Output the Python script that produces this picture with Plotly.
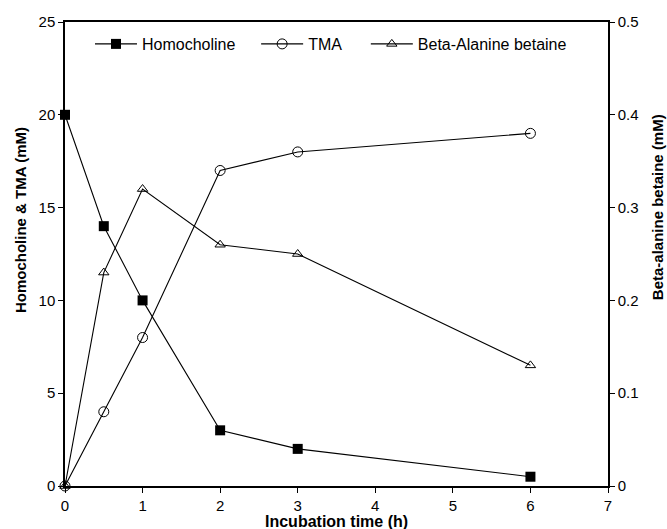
import plotly.graph_objects as go

time_h = [0, 0.5, 1, 2, 3, 6]
homocholine = [20, 14, 10, 3, 2, 0.5]
tma = [0, 4, 8, 17, 18, 19]
beta_alanine_betaine = [0, 0.23, 0.32, 0.26, 0.25, 0.13]

x_ticks = [0, 1, 2, 3, 4, 5, 6, 7]
left_ticks = [0, 5, 10, 15, 20, 25]
right_ticks = [0, 0.1, 0.2, 0.3, 0.4, 0.5]
right_tick_labels = ["0", "0.1", "0.2", "0.3", "0.4", "0.5"]

fig = go.Figure()
fig.add_trace(go.Scatter(x=time_h, y=homocholine, name="Homocholine", mode="lines+markers",
                         line=dict(color="black", width=1.1), legend="legend",
                         marker=dict(symbol="square", size=10, color="black"), cliponaxis=False))
fig.add_trace(go.Scatter(x=time_h, y=tma, name="TMA", mode="lines+markers",
                         line=dict(color="black", width=1.1), legend="legend2",
                         marker=dict(symbol="circle-open", size=10, color="black", line=dict(width=1)), cliponaxis=False))
fig.add_trace(go.Scatter(x=time_h, y=beta_alanine_betaine, name="Beta-Alanine betaine", mode="lines+markers",
                         yaxis="y2", line=dict(color="black", width=1.1), legend="legend3",
                         marker=dict(symbol="triangle-up-open", size=9, color="black", line=dict(width=1)), cliponaxis=False))

font_family = "Liberation Sans, Arial, sans-serif"
leg_common = dict(orientation="h", y=0.9526, xanchor="left", yanchor="middle",
                  font=dict(size=16), bgcolor="rgba(0,0,0,0)", itemwidth=42)

axis_common = dict(ticks="outside", ticklen=5, tickcolor="black", tickwidth=1.2,
                   showline=True, linecolor="black", linewidth=1.5, showgrid=False, zeroline=False,
                   automargin=False, tickfont=dict(size=15))

fig.update_layout(
    width=667, height=529,
    margin=dict(l=65, r=59, t=22, b=43),
    paper_bgcolor="white", plot_bgcolor="white",
    font=dict(family=font_family, color="black", size=15),
    showlegend=True,
    legend=dict(x=0.046, **leg_common),
    legend2=dict(x=0.352, **leg_common),
    legend3=dict(x=0.554, **leg_common),
    xaxis=dict(range=[0, 7], tickvals=x_ticks, mirror=True, **axis_common),
    yaxis=dict(range=[0, 25], tickvals=left_ticks, **axis_common),
    yaxis2=dict(range=[0, 0.5], tickvals=right_ticks, ticktext=right_tick_labels, overlaying="y", side="right",
                **axis_common),
    annotations=[
        dict(text="<b>Incubation time (h)</b>", xref="paper", yref="paper", x=0.5, y=-0.0755,
             xanchor="center", yanchor="middle", showarrow=False, font=dict(size=16)),
        dict(text="<b>Homocholine & TMA (mM)</b>", xref="paper", yref="paper", x=-0.0829, y=0.573,
             xanchor="center", yanchor="middle", textangle=-90, showarrow=False, font=dict(size=15)),
        dict(text="<b>Beta-alanine betaine (mM)</b>", xref="paper", yref="paper", x=1.0903, y=0.601,
             xanchor="center", yanchor="middle", textangle=-90, showarrow=False, font=dict(size=15)),
    ],
)

fig.write_html("out.html", config={"displayModeBar": False},
               post_script="document.body.style.margin='0';document.body.style.overflow='hidden';")
